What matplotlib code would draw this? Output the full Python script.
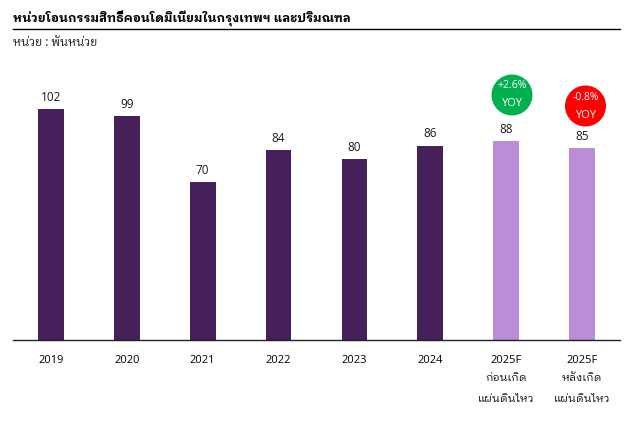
import matplotlib
matplotlib.use('Agg')
import matplotlib.pyplot as plt
from matplotlib.patches import Circle

years = ['2019', '2020', '2021', '2022', '2023', '2024', '2025F', '2025F']
notes = ['', '', '', '', '', '', 'ก่อนเกิด', 'หลังเกิด']
notes2 = ['', '', '', '', '', '', 'แผ่นดินไหว', 'แผ่นดินไหว']
units = [102, 99, 70, 84, 80, 86, 88, 85]
colors = ['#46205A'] * 6 + ['#BC8DD6'] * 2
title = 'หน่วยโอนกรรมสิทธิ์คอนโดมิเนียมในกรุงเทพฯ และปริมณฑล'
subtitle = 'หน่วย : พันหน่วย'
badges = ['+2.6%', '-0.8%']
badge_colors = ['#00B050', '#FF0000']

W, H = 629, 427
fonts = ['Open Sans', 'IBM Plex Sans Thai Looped', 'IBM Plex Sans Thai', 'DejaVu Sans']
plt.rcParams['font.family'] = fonts
plt.rcParams['text.color'] = '#1a1a1a'

fig = plt.figure(figsize=(W / 100, H / 100), dpi=100)

# bars, baseline at y=341 px and 2.26 px per unit
ax = fig.add_axes([13 / W, (H - 341) / H, 607 / W, 300 / H])
x = range(len(units))
ax.bar(x, units, width=0.34, color=colors)
ax.set_xlim(-0.5, 7.5)
ax.set_ylim(0, 300 / 2.26)
for i, v in enumerate(units):
    ax.annotate(str(v), (i, v), xytext=(0, 4.5), textcoords='offset points',
                ha='center', va='bottom', fontsize=8.5)
for s in ['top', 'left', 'right']:
    ax.spines[s].set_visible(False)
ax.spines['bottom'].set_color('#222222')
ax.spines['bottom'].set_linewidth(1)
ax.set_yticks([])
ax.set_xticks(list(x))
ax.set_xticklabels(years, fontsize=8)
ax.tick_params(axis='x', length=0, pad=10)

# overlay in pixel coordinates for the header, second label rows and the badges
top = fig.add_axes([0, 0, 1, 1], facecolor='none')
top.set_xlim(0, W)
top.set_ylim(H, 0)
top.axis('off')
top.text(13, 18.5, title, fontsize=8.95, fontweight='bold', va='center', color='black')
top.plot([13, 620], [29.5, 29.5], color='black', lw=1)
top.text(13, 43, subtitle, fontsize=8.4, va='center')

for i, (n, n2) in enumerate(zip(notes, notes2)):
    if n:
        px = 13 + (i + 0.5) * 607 / 8
        top.text(px, 379, n, fontsize=8.1, ha='center', va='center')
        top.text(px, 400, n2, fontsize=8.1, ha='center', va='center')

for bx, by, b, c in zip([512, 585.5], [96, 107], badges, badge_colors):
    top.add_patch(Circle((bx, by), 20.5, color=c, lw=0))
    top.text(bx, by - 10, b, color='white', fontsize=7.5, ha='center', va='center')
    top.text(bx, by + 8, 'YOY', color='white', fontsize=8, ha='center', va='center')

fig.savefig('out.png', dpi=100)
